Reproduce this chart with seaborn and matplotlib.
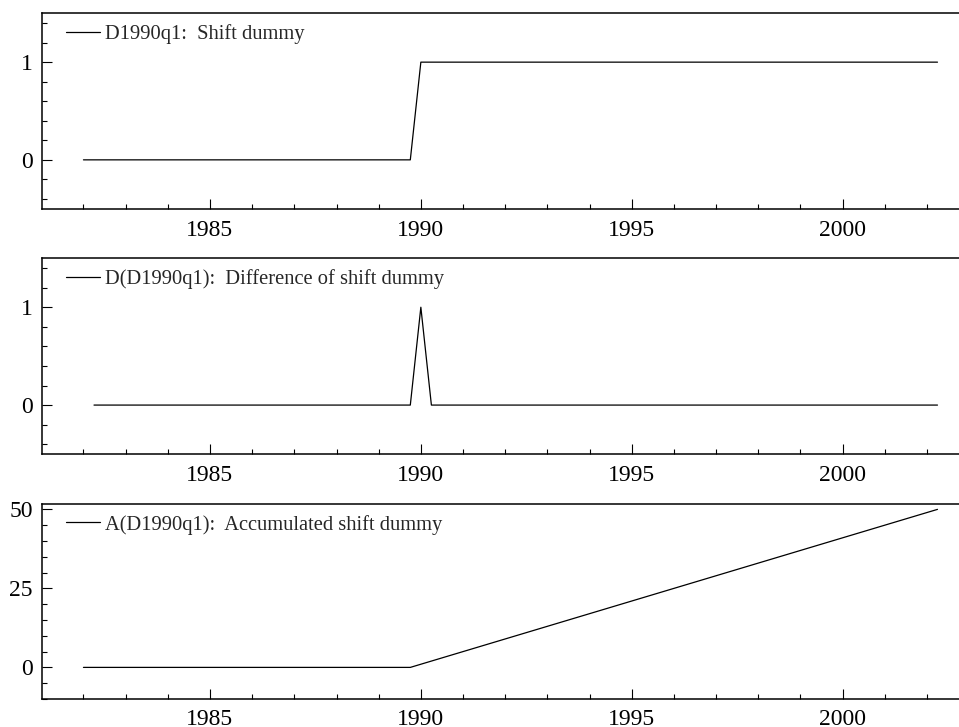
import matplotlib
matplotlib.use("Agg")
import matplotlib.pyplot as plt
import seaborn as sns
import pandas as pd
from matplotlib.ticker import MultipleLocator

sns.set_theme(style="white")
plt.rcParams['font.family'] = ['Liberation Serif', 'DejaVu Serif']

# ---- data (quarterly, 1982q1 .. 2002q2) ----
start_year = 1982
n_quarters = 82
shift_dummy = [0, 0, 0, 0, 0, 0, 0, 0, 0, 0, 0, 0, 0, 0, 0, 0,
               0, 0, 0, 0, 0, 0, 0, 0, 0, 0, 0, 0, 0, 0, 0, 0,
               1, 1, 1, 1, 1, 1, 1, 1, 1, 1, 1, 1, 1, 1, 1, 1,
               1, 1, 1, 1, 1, 1, 1, 1, 1, 1, 1, 1, 1, 1, 1, 1,
               1, 1, 1, 1, 1, 1, 1, 1, 1, 1, 1, 1, 1, 1, 1, 1,
               1, 1]
diff_dummy = [0, 0, 0, 0, 0, 0, 0, 0, 0, 0, 0, 0, 0, 0, 0, 0,
              0, 0, 0, 0, 0, 0, 0, 0, 0, 0, 0, 0, 0, 0, 0,
              1, 0, 0, 0, 0, 0, 0, 0, 0, 0, 0, 0, 0, 0, 0, 0,
              0, 0, 0, 0, 0, 0, 0, 0, 0, 0, 0, 0, 0, 0, 0, 0,
              0, 0, 0, 0, 0, 0, 0, 0, 0, 0, 0, 0, 0, 0, 0, 0,
              0, 0]
accum_dummy = [0, 0, 0, 0, 0, 0, 0, 0, 0, 0, 0, 0, 0, 0, 0, 0,
               0, 0, 0, 0, 0, 0, 0, 0, 0, 0, 0, 0, 0, 0, 0, 0,
               1, 2, 3, 4, 5, 6, 7, 8, 9, 10, 11, 12, 13, 14, 15, 16,
               17, 18, 19, 20, 21, 22, 23, 24, 25, 26, 27, 28, 29, 30, 31, 32,
               33, 34, 35, 36, 37, 38, 39, 40, 41, 42, 43, 44, 45, 46, 47, 48,
               49, 50]
labels = ["D1990q1:  Shift dummy",
          "D(D1990q1):  Difference of shift dummy",
          "A(D1990q1):  Accumulated shift dummy"]
x_ticks = [1985, 1990, 1995, 2000]

time = [start_year + i / 4 for i in range(n_quarters)]
df1 = pd.DataFrame({"t": time, "v": shift_dummy})
df2 = pd.DataFrame({"t": time[1:], "v": diff_dummy})
df3 = pd.DataFrame({"t": time, "v": accum_dummy})

fig = plt.figure(figsize=(9.59, 7.27), dpi=100)
W, H = 959, 727
def box(top, bottom, left=41.7, right=959):
    return [left / W, 1 - bottom / H, (right - left) / W, (bottom - top) / H]

specs = [
    (df1, labels[0], box(13.3, 208.7), (-0.5, 1.5), [0, 1], 0.2, 8),
    (df2, labels[1], box(258.3, 454.0), (-0.5, 1.5), [0, 1], 0.2, 8),
    (df3, labels[2], box(504.0, 699.0), (-10.0, 51.7), [0, 25, 50], 5, 7),
]

for df, lab, rect, ylim, yt, ymin, xpad in specs:
    ax = fig.add_axes(rect)
    sns.lineplot(data=df, x="t", y="v", ax=ax, color="black", linewidth=0.9,
                 label=lab)
    ax.set_xlim(1981.01, 2002.76)
    ax.set_ylim(*ylim)
    ax.set_xticks(x_ticks)
    ax.set_xticklabels([str(v) for v in x_ticks])
    ax.xaxis.set_minor_locator(MultipleLocator(1))
    ax.set_yticks(yt)
    ax.yaxis.set_minor_locator(MultipleLocator(ymin))
    ax.set_xlabel("")
    ax.set_ylabel("")
    for s in ["left", "bottom", "top"]:
        ax.spines[s].set_visible(True)
        ax.spines[s].set_color("black")
        ax.spines[s].set_linewidth(1.1)
    ax.spines["right"].set_visible(False)
    ax.tick_params(axis="both", which="major", direction="in", length=7.2,
                   width=0.8, color="black", labelsize=17, labelcolor="black")
    ax.tick_params(axis="both", which="minor", direction="in", length=3.6,
                   width=0.8, color="black")
    ax.tick_params(axis="x", which="both", bottom=True, top=False, pad=xpad)
    ax.tick_params(axis="y", which="both", left=True, right=False, pad=6.5)
    ax.grid(False)
    leg = ax.legend(loc="upper left", bbox_to_anchor=(24 / (959 - 41.7), 0.945),
                    frameon=False, fontsize=14.8, handlelength=1.65,
                    handletextpad=0.25, borderpad=0, borderaxespad=0)
    for line in leg.get_lines():
        line.set_linewidth(0.9)

fig.savefig("out.png", dpi=100)
